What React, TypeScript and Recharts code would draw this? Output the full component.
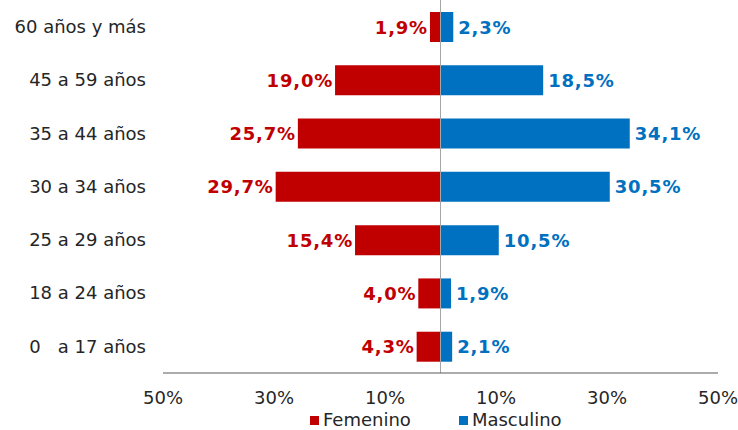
import { BarChart, Bar, XAxis, YAxis, ReferenceLine, LabelList } from "recharts";

document.body.style.margin = "0";

const AGE_GROUPS = [
  "60 años y más",
  "45 a 59 años",
  "35 a 44 años",
  "30 a 34 años",
  "25 a 29 años",
  "18 a 24 años",
  "0\u00A0\u00A0\u00A0a 17 años",
];
const FEMENINO = [1.9, 19.0, 25.7, 29.7, 15.4, 4.0, 4.3];
const MASCULINO = [2.3, 18.5, 34.1, 30.5, 10.5, 1.9, 2.1];
const X_TICKS = [-50, -30, -10, 10, 30, 50];

const RED = "#C00000";
const BLUE = "#0070C0";
const FONT = "'DejaVu Sans', Verdana, sans-serif";

const data = AGE_GROUPS.map((age, i) => ({
  age,
  fem: -FEMENINO[i],
  masc: MASCULINO[i],
}));

const fmt = (v: number) => Math.abs(v).toFixed(1).replace(".", ",") + "%";

const femLabel = (p: any) => {
  const { x, y, width, height, value } = p;
  const left = Math.min(Number(x), Number(x) + Number(width));
  return (
    <text
      x={left - 2}
      y={Number(y) + Number(height) / 2}
      textAnchor="end"
      dominantBaseline="central"
      fill={RED}
      fontWeight="bold"
      fontSize={18}
      letterSpacing={0.8}
      fontFamily={FONT}
    >
      {fmt(value)}
    </text>
  );
};

const mascLabel = (p: any) => {
  const { x, y, width, height, value } = p;
  const right = Math.max(Number(x), Number(x) + Number(width));
  return (
    <text
      x={right + 5}
      y={Number(y) + Number(height) / 2}
      textAnchor="start"
      dominantBaseline="central"
      fill={BLUE}
      fontWeight="bold"
      fontSize={18}
      letterSpacing={0.8}
      fontFamily={FONT}
    >
      {fmt(value)}
    </text>
  );
};

const SERIES = [
  { name: "Femenino", color: RED },
  { name: "Masculino", color: BLUE },
];

export default function App() {
  return (
    <div style={{ position: "relative", width: 738, height: 430, background: "#fff" }}>
      <BarChart
        width={738}
        height={430}
        data={data}
        layout="vertical"
        stackOffset="sign"
        margin={{ top: 0, right: 20, bottom: 27, left: 0 }}
      >
        <XAxis
          type="number"
          domain={[-50, 50]}
          ticks={X_TICKS}
          tickFormatter={(v) => Math.abs(v) + "%"}
          axisLine={{ stroke: "#595959" }}
          tickLine={false}
          tickSize={0}
          tickMargin={18}
          height={30}
          tick={{ fill: "#262626", fontSize: 18, fontFamily: FONT }}
          interval={0}
        />
        <YAxis
          type="category"
          dataKey="age"
          width={163}
          axisLine={false}
          tickLine={false}
          tickSize={0}
          tickMargin={17}
          tick={{ fill: "#262626", fontSize: 18, fontFamily: FONT }}
          interval={0}
        />
        <ReferenceLine x={0} stroke="#a6a6a6" strokeWidth={1} />
        <Bar dataKey="fem" stackId="a" fill={RED} barSize={30} isAnimationActive={false}>
          <LabelList dataKey="fem" content={femLabel} />
        </Bar>
        <Bar dataKey="masc" stackId="a" fill={BLUE} barSize={30} isAnimationActive={false}>
          <LabelList dataKey="masc" content={mascLabel} />
        </Bar>
      </BarChart>
      <div
        style={{
          position: "absolute",
          top: 410,
          left: 310,
          display: "flex",
          fontFamily: FONT,
          fontSize: 18,
          lineHeight: "20px",
          color: "#262626",
        }}
      >
        {SERIES.map((s) => (
          <div key={s.name} style={{ display: "flex", alignItems: "center", marginRight: 48 }}>
            <span style={{ width: 9, height: 9, background: s.color, marginRight: 4, display: "inline-block" }} />
            {s.name}
          </div>
        ))}
      </div>
    </div>
  );
}
